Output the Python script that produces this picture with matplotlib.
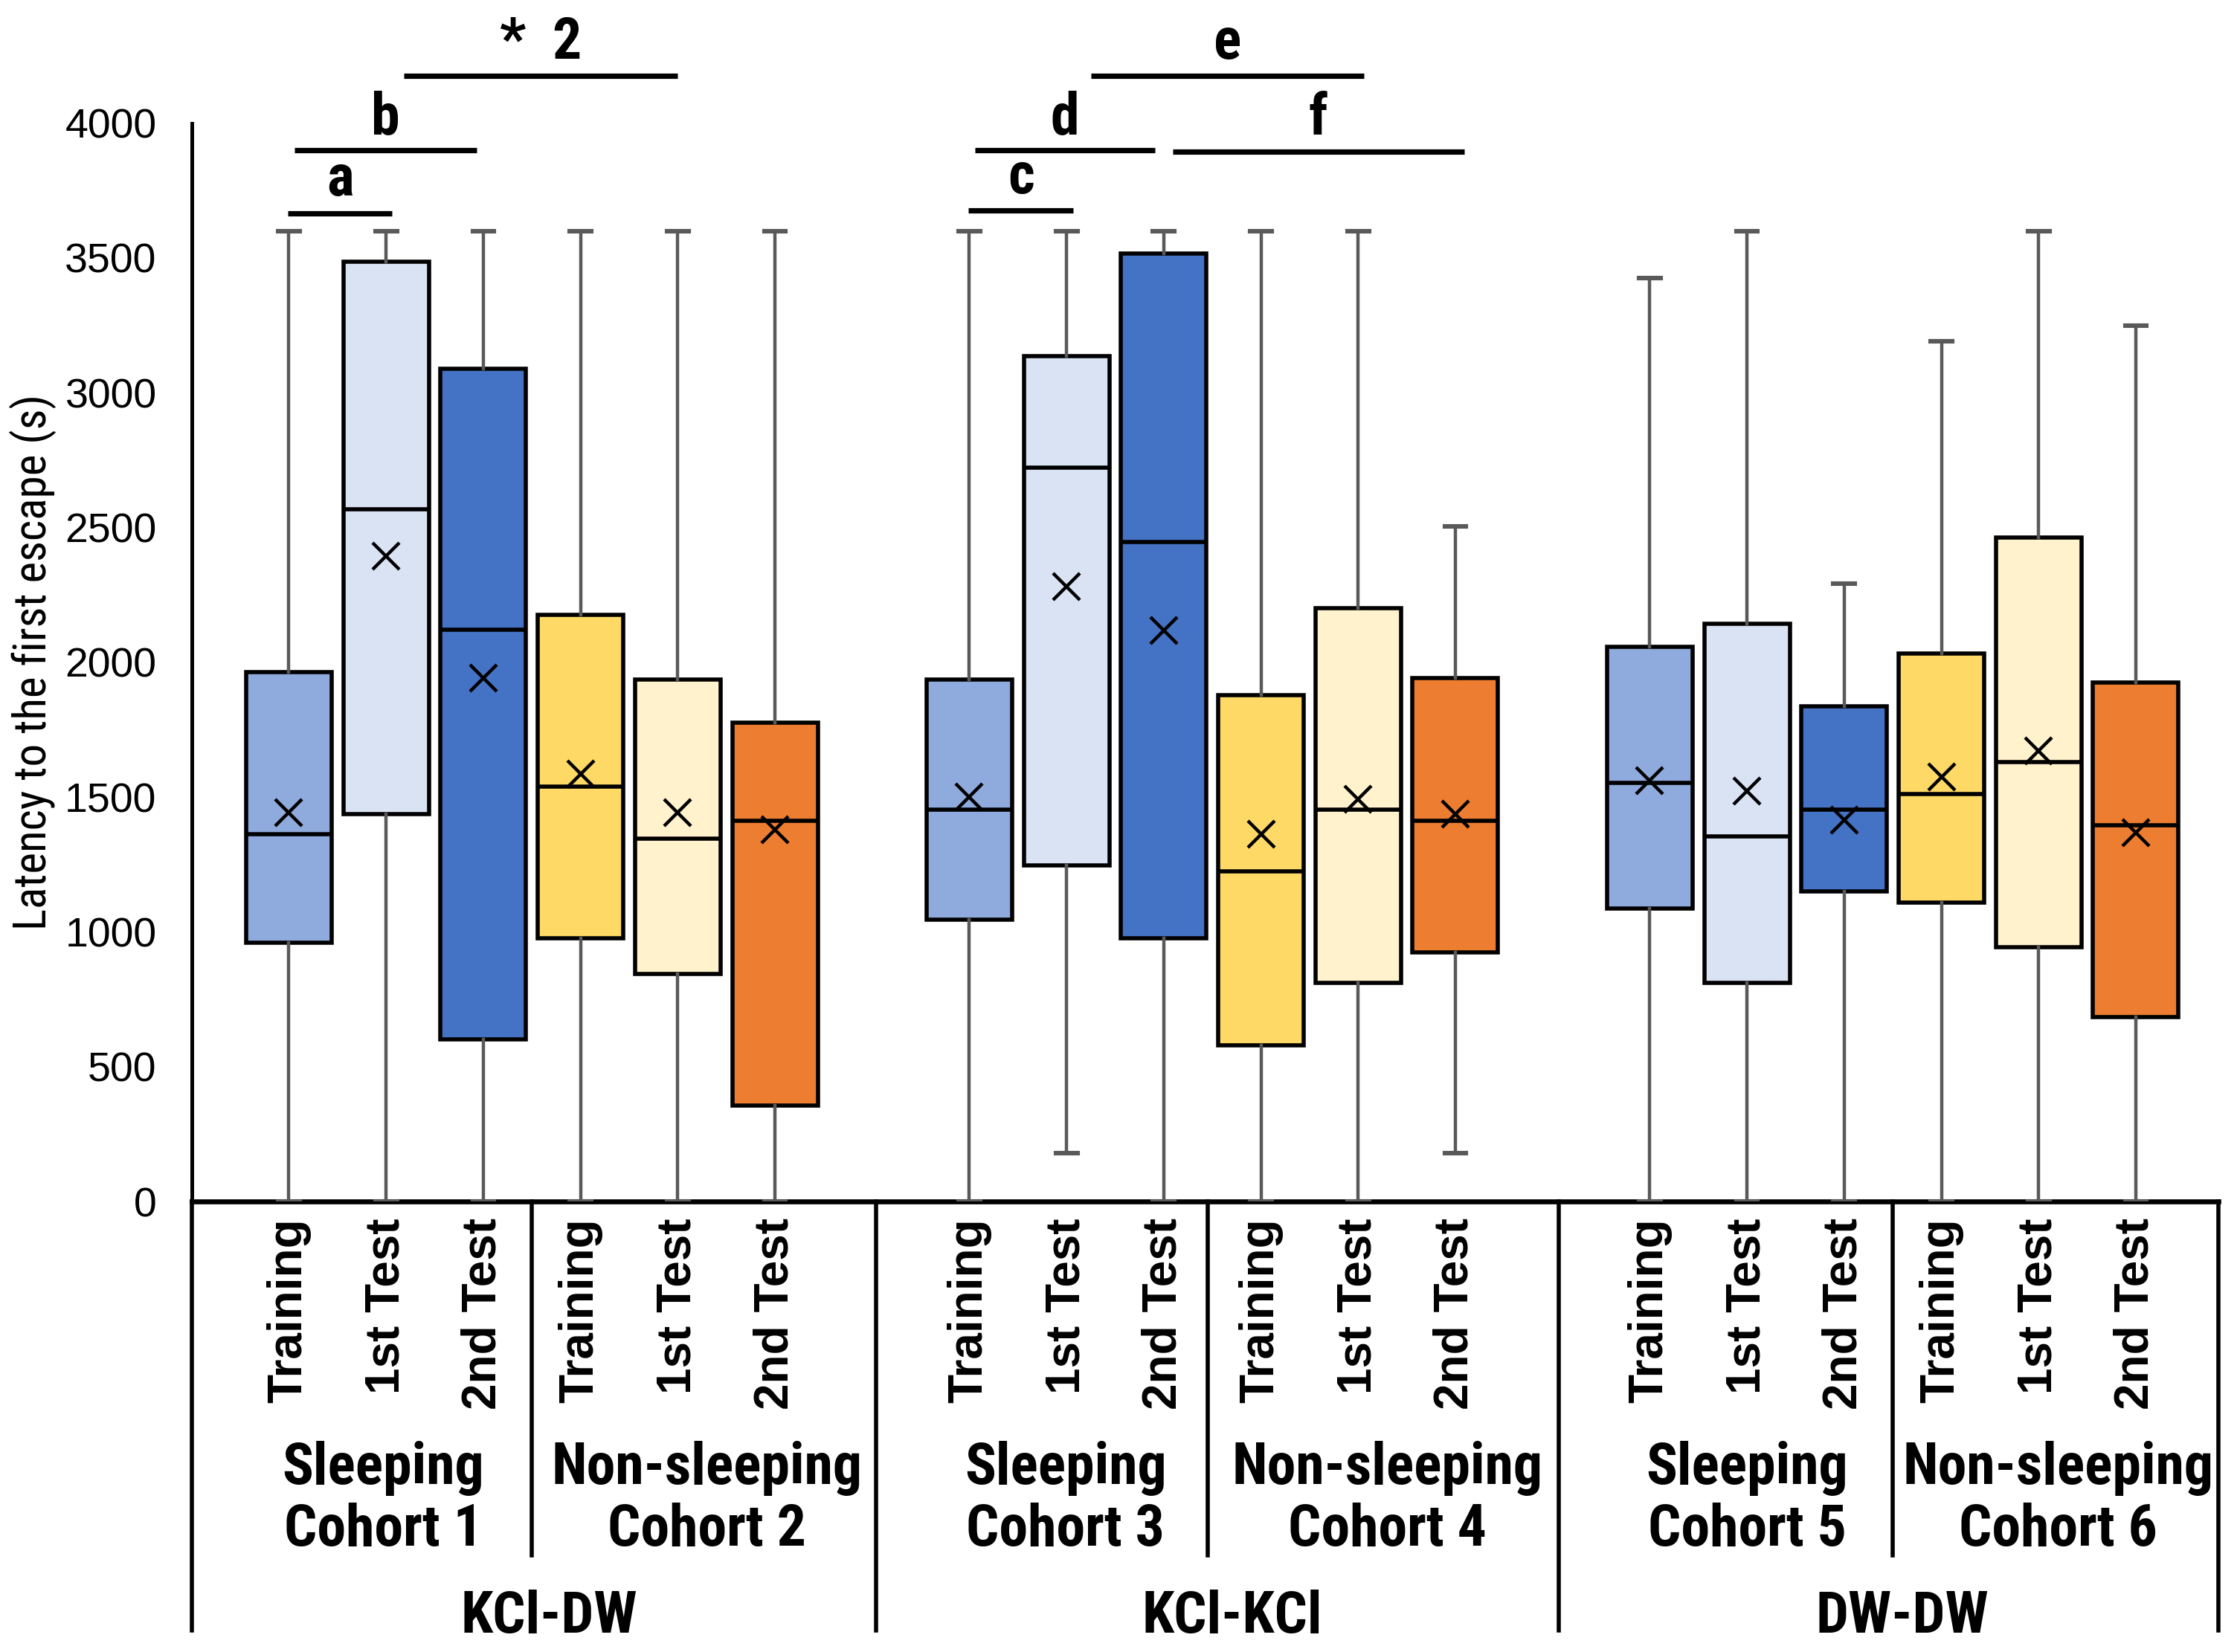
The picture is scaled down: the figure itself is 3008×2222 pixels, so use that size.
import matplotlib
matplotlib.use("Agg")
import matplotlib.pyplot as plt
import matplotlib.transforms as mtransforms
from matplotlib import font_manager

# box stats (seconds)
sessions = ["Training", "1st Test", "2nd Test"] * 6
positions = [0, 1, 2, 3, 4, 5, 7, 8, 9, 10, 11, 12, 14, 15, 16, 17, 18, 19]
whislo = [0, 0, 0, 0, 0, 0, 0, 180, 0, 0, 0, 180, 0, 0, 0, 0, 0, 0]
q1 = [960, 1438, 600, 976, 843, 355, 1045, 1247, 976, 578, 812, 923, 1088, 812, 1151, 1109, 944, 684]
med = [1363, 2568, 2122, 1538, 1347, 1411, 1454, 2721, 2446, 1225, 1454, 1411, 1554, 1353, 1454, 1512, 1629, 1395]
q3 = [1963, 3485, 3088, 2175, 1936, 1777, 1936, 3135, 3517, 1878, 2202, 1942, 2058, 2143, 1836, 2032, 2462, 1926]
whishi = [3600, 3600, 3600, 3600, 3600, 3600, 3600, 3600, 3600, 3600, 3600, 2504, 3425, 3600, 2292, 3190, 3600, 3250]
means = [1443, 2393, 1942, 1586, 1443, 1379, 1501, 2281, 2117, 1363, 1491, 1438, 1560, 1523, 1416, 1576, 1671, 1369]

sleep_cols = ["#8FAADC", "#DAE3F3", "#4472C4"]
nonsleep_cols = ["#FFD966", "#FFF2CC", "#ED7D31"]
colors = (sleep_cols + nonsleep_cols) * 3

cohorts = ["Sleeping\nCohort 1", "Non-sleeping\nCohort 2", "Sleeping\nCohort 3",
           "Non-sleeping\nCohort 4", "Sleeping\nCohort 5", "Non-sleeping\nCohort 6"]
cohort_x = [0.97, 4.3, 7.99, 11.3, 15.0, 18.2]
groups = ["KCl-DW", "KCl-KCl", "DW-DW"]
group_x = [2.68, 9.7, 16.6]

# significance bars
sig_x0 = [-0.01, 0.06, 1.18, 6.99, 7.06, 8.25, 9.09]
sig_x1 = [1.06, 1.93, 4.0, 8.07, 8.91, 11.06, 12.09]
sig_y = [3666, 3899, 4175, 3676, 3899, 4175, 3894]
sig_lab = ["a", "b", "*  2", "c", "d", "e", "f"]

# look for a condensed face, else shrink the normal one
narrow_name = None
for name in ["Liberation Sans Narrow", "Roboto Condensed", "Open Sans Condensed", "DejaVu Sans Condensed"]:
    try:
        font_manager.findfont(font_manager.FontProperties(family=name), fallback_to_default=False)
        narrow_name = name
        break
    except Exception:
        pass
if narrow_name is not None:
    narrow = [narrow_name, "Liberation Sans"]
    big = 28
    ylab_size = 22
else:
    narrow = ["Liberation Sans", "DejaVu Sans"]
    big = 24
    ylab_size = 18
wide = ["Liberation Sans", "DejaVu Sans"]

fig = plt.figure(figsize=(15.04, 11.11), dpi=200)
ax = fig.add_axes([0.0857, 0.2727, 0.906, 0.6528])

stats = []
for i in range(len(positions)):
    stats.append(dict(whislo=whislo[i], q1=q1[i], med=med[i], q3=q3[i],
                      whishi=whishi[i], mean=means[i], fliers=[]))

bp = ax.bxp(stats, positions=positions, widths=0.88, patch_artist=True,
            showmeans=True, showfliers=False,
            boxprops=dict(edgecolor="black", linewidth=2.0),
            medianprops=dict(color="black", linewidth=2.0),
            whiskerprops=dict(color="#595959", linewidth=1.6),
            capprops=dict(color="#595959", linewidth=2.2),
            meanprops=dict(marker="x", markeredgecolor="black", markersize=13,
                           markeredgewidth=1.6),
            capwidths=0.22, zorder=3)
for patch, c in zip(bp["boxes"], colors):
    patch.set_facecolor(c)

ax.set_xlim(-1, 19.85)
ax.set_ylim(0, 4000)
ax.set_yticks([0, 500, 1000, 1500, 2000, 2500, 3000, 3500, 4000])
ax.tick_params(axis="y", length=0, pad=17, labelsize=20)
for lab in ax.get_yticklabels():
    lab.set_family(wide)
ax.set_xticks(positions)
ax.set_xticklabels(sessions, rotation=90, fontsize=23, fontweight="bold", family=wide)
ax.tick_params(axis="x", length=0, pad=8)
ax.set_ylabel("Latency to the first escape (s)", fontsize=ylab_size, family=narrow, labelpad=4)

for s in ["top", "right"]:
    ax.spines[s].set_visible(False)
ax.spines["left"].set_linewidth(1.8)
ax.spines["bottom"].set_linewidth(2.4)

trans = mtransforms.blended_transform_factory(ax.transData, ax.transAxes)

# category separator lines under the axis
for xv in [2.5, 9.45, 16.5]:
    ax.plot([xv, xv], [0, -0.328], transform=trans, color="black", lw=2.0, clip_on=False)
for xv in [-1, 6.04, 13.06, 19.85]:
    ax.plot([xv, xv], [0, -0.398], transform=trans, color="black", lw=2.0, clip_on=False)

for x, t in zip(cohort_x, cohorts):
    ax.text(x, -0.276, t, transform=trans, ha="center", va="center", fontsize=big,
            fontweight="bold", family=narrow, linespacing=1.15)
for x, t in zip(group_x, groups):
    ax.text(x, -0.385, t, transform=trans, ha="center", va="center", fontsize=big,
            fontweight="bold", family=narrow)

for x0, x1, y, t in zip(sig_x0, sig_x1, sig_y, sig_lab):
    ax.plot([x0, x1], [y, y], color="black", lw=2.6, clip_on=False, solid_capstyle="butt")
    ax.text((x0 + x1) / 2, y + 20, t, ha="center", va="bottom", fontsize=big,
            fontweight="bold", family=narrow, clip_on=False)

fig.savefig("out.png", dpi=200)
